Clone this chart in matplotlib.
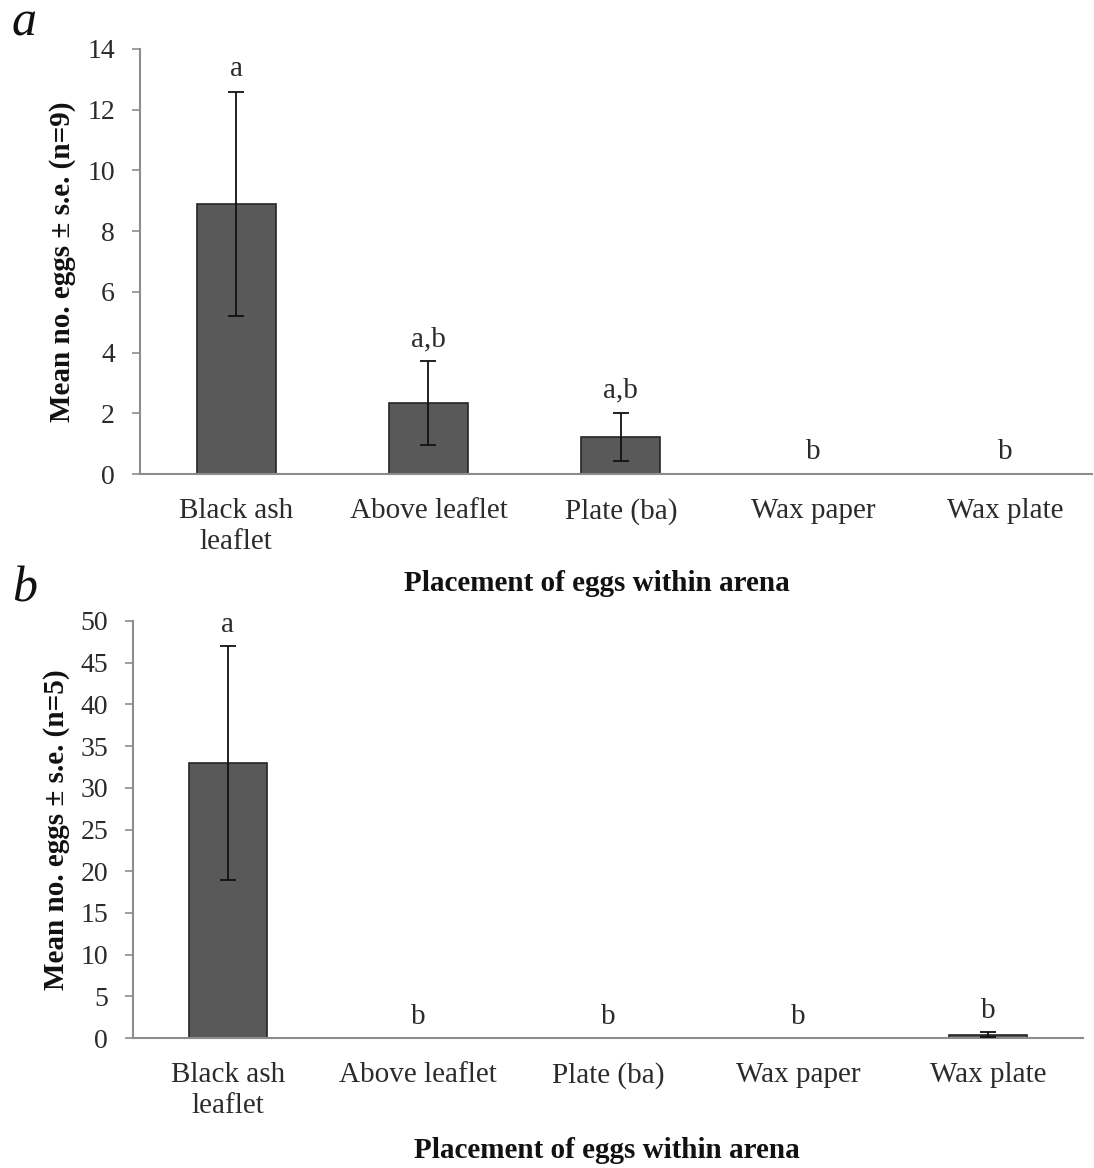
import matplotlib
matplotlib.use("Agg")
import matplotlib.pyplot as plt
import numpy as np

plt.rcParams['font.family'] = ['Liberation Serif', 'DejaVu Serif']

categories = ["Black ash\nleaflet", "Above leaflet", "Plate (ba)", "Wax paper", "Wax plate"]

# Panel a (n=9)
means_a = [8.9, 2.33, 1.22, 0.0, 0.0]
se_a = [3.7, 1.38, 0.8, 0.0, 0.0]
letters_a = ["a", "a,b", "a,b", "b", "b"]
yticks_a = [0, 2, 4, 6, 8, 10, 12, 14]

# Panel b (n=5)
means_b = [33.0, 0.0, 0.0, 0.0, 0.4]
se_b = [14.0, 0.0, 0.0, 0.0, 0.3]
letters_b = ["a", "b", "b", "b", "b"]
yticks_b = [0, 5, 10, 15, 20, 25, 30, 35, 40, 45, 50]

W, H = 1094, 1168
fig = plt.figure(figsize=(W / 100, H / 100), dpi=100)

axis_grey = "#8c8c8c"
text_col = "#2b2b2b"


def panel(rect, means, se, letters, yticks, ylabel, xlim, tag, tag_xy, letter_pad,
          ylabel_x, xlabel_xy):
    ax = fig.add_axes(rect)
    x = np.arange(len(categories))
    ax.bar(x, means, width=0.41, color="#595959", edgecolor="#262626", linewidth=1.2, zorder=2)
    for xi, m, s in zip(x, means, se):
        if s > 0:
            ax.errorbar(xi, m, yerr=s, fmt="none", ecolor="#111111", elinewidth=1.3,
                        capsize=6, capthick=1.3, zorder=3)
    for xi, m, s, lab in zip(x, means, se, letters):
        ax.text(xi, m + s + letter_pad, lab, ha="center", va="bottom", fontsize=21,
                color=text_col)
    ax.set_ylim(yticks[0], yticks[-1])
    ax.set_yticks(yticks)
    ax.set_xlim(*xlim)
    ax.set_xticks(x)
    ax.set_xticklabels(categories, fontsize=21, color=text_col, linespacing=1.25)
    ax.tick_params(axis="x", length=0, pad=17)
    ax.tick_params(axis="y", length=6, width=1.2, color=axis_grey, labelsize=20,
                   labelcolor=text_col, pad=12)
    for side in ("top", "right"):
        ax.spines[side].set_visible(False)
    for side in ("left", "bottom"):
        ax.spines[side].set_color(axis_grey)
        ax.spines[side].set_linewidth(1.5)
    ax.set_ylabel(ylabel, fontsize=21, fontweight="bold", color="#111111")
    ax.yaxis.set_label_coords(ylabel_x, 0.5)
    ax.set_xlabel("Placement of eggs within arena", fontsize=21, fontweight="bold",
                  color="#111111")
    ax.xaxis.set_label_coords(*xlabel_xy)
    fig.text(tag_xy[0], tag_xy[1], tag, fontsize=36, style="italic", color="#111111",
             ha="left", va="baseline")
    return ax


panel([140 / W, 1 - 474 / H, 952 / W, 425 / H], means_a, se_a, letters_a, yticks_a,
      "Mean no. eggs \u00b1 s.e. (n=9)", (-0.5, 4.45), "a", (12 / W, 1 - 35 / H), 0.3,
      (76 - 140) / 952, (0.48, -0.226))
panel([133 / W, 1 - 1038 / H, 950 / W, 417 / H], means_b, se_b, letters_b, yticks_b,
      "Mean no. eggs \u00b1 s.e. (n=5)", (-0.5, 4.5), "b", (12 / W, 1 - 602 / H), 1.0,
      (70 - 133) / 950, (0.499, -0.237))

fig.savefig("out.png", dpi=100, facecolor="white")
